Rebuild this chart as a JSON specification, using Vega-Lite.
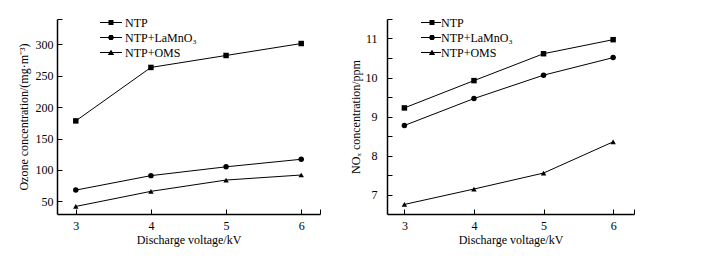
{
  "$schema": "https://vega.github.io/schema/vega-lite/v6.json",
  "padding": {"left": 17, "top": 13, "right": 5, "bottom": 5},
  "background": "white",
  "spacing": 28,
  "config": {
    "font": "Liberation Serif",
    "view": {"stroke": null},
    "axis": {
      "domainColor": "black", "domainWidth": 1.5, "tickColor": "black", "tickWidth": 1,
      "tickSize": -5, "labelColor": "black", "titleColor": "black",
      "labelFontSize": 12, "titleFontSize": 12, "titleFontWeight": "normal", "labelOverlap": false,
      "grid": false, "labelFont": "Liberation Serif", "titleFont": "Liberation Serif"
    },
    "legend": {
      "labelFont": "Liberation Serif", "labelFontSize": 12, "labelColor": "black"
    }
  },
  "datasets": {
    "ozone": [
      {"voltage": 3, "series": "NTP", "value": 178},
      {"voltage": 4, "series": "NTP", "value": 263},
      {"voltage": 5, "series": "NTP", "value": 282},
      {"voltage": 6, "series": "NTP", "value": 301},
      {"voltage": 3, "series": "NTP+LaMnO₃", "value": 68},
      {"voltage": 4, "series": "NTP+LaMnO₃", "value": 91},
      {"voltage": 5, "series": "NTP+LaMnO₃", "value": 105},
      {"voltage": 6, "series": "NTP+LaMnO₃", "value": 117},
      {"voltage": 3, "series": "NTP+OMS", "value": 42},
      {"voltage": 4, "series": "NTP+OMS", "value": 66},
      {"voltage": 5, "series": "NTP+OMS", "value": 84},
      {"voltage": 6, "series": "NTP+OMS", "value": 92}
    ],
    "nox": [
      {"voltage": 3, "series": "NTP", "value": 9.22},
      {"voltage": 4, "series": "NTP", "value": 9.92},
      {"voltage": 5, "series": "NTP", "value": 10.61},
      {"voltage": 6, "series": "NTP", "value": 10.97},
      {"voltage": 3, "series": "NTP+LaMnO₃", "value": 8.77},
      {"voltage": 4, "series": "NTP+LaMnO₃", "value": 9.46},
      {"voltage": 5, "series": "NTP+LaMnO₃", "value": 10.06},
      {"voltage": 6, "series": "NTP+LaMnO₃", "value": 10.51},
      {"voltage": 3, "series": "NTP+OMS", "value": 6.745},
      {"voltage": 4, "series": "NTP+OMS", "value": 7.14},
      {"voltage": 5, "series": "NTP+OMS", "value": 7.55},
      {"voltage": 6, "series": "NTP+OMS", "value": 8.35}
    ]
  },
  "hconcat": [
    {
      "width": 263, "height": 195,
      "data": {"name": "ozone"},
      "encoding": {
        "x": {"field": "voltage", "type": "quantitative",
          "scale": {"domain": [2.75, 6.25], "nice": false, "zero": false},
          "axis": {"title": "Discharge voltage/kV", "values": [3, 4, 5, 6, 6.25], "labelOverlap": false, "labelBound": false,
            "labelExpr": "datum.value > 6.1 ? '' : format(datum.value, 'd')", "labelPadding": 11, "titlePadding": 3}},
        "y": {"field": "value", "type": "quantitative",
          "scale": {"domain": [30, 340], "nice": false, "zero": false},
          "axis": {"title": "Ozone concentration/(mg·m⁻³)", "values": [50, 100, 150, 200, 250, 300, 340], "labelOverlap": false,
            "labelExpr": "datum.value == 340 ? '' : datum.label", "labelPadding": 9, "titlePadding": 5}}
      },
      "layer": [
        {"mark": {"type": "line", "color": "black", "strokeWidth": 1},
         "encoding": {"detail": {"field": "series"}}},
        {"mark": {"type": "point", "filled": true, "color": "black", "opacity": 1, "size": 30},
         "encoding": {
           "shape": {"field": "series", "type": "nominal",
             "scale": {"domain": ["NTP", "NTP+LaMnO₃", "NTP+OMS"], "range": ["square", "circle", "triangle-up"]},
             "legend": null}}},
        {"mark": {"type": "point", "filled": false, "color": "black", "strokeWidth": 1, "opacity": 0},
         "encoding": {
           "shape": {"field": "series", "type": "nominal",
             "scale": {"domain": ["NTP", "NTP+LaMnO₃", "NTP+OMS"], "range": [
               "M-1,0H3.4M0.7,-0.4H1.7M0.7,-0.2H1.7M0.7,0.2H1.7M0.7,0.4H1.7",
               "M-1,0H3.4M0.82,-0.4H1.58M0.69,-0.2H1.71M0.69,0.2H1.71M0.82,0.4H1.58",
               "M-1,0H3.4M1.09,-0.4H1.31M0.97,-0.2H1.43M0.74,0.2H1.66M0.63,0.4H1.77"]},
             "legend": {"orient": "none", "legendX": 42, "legendY": -2.5, "title": null,
               "symbolSize": 100, "labelOffset": 14, "rowPadding": 3, "symbolOpacity": 1,
               "symbolStrokeColor": "black", "symbolStrokeWidth": 1}}}}
      ],
      "resolve": {"scale": {"shape": "independent"}}
    },
    {
      "width": 247, "height": 195,
      "data": {"name": "nox"},
      "encoding": {
        "x": {"field": "voltage", "type": "quantitative",
          "scale": {"domain": [2.75, 6.3], "nice": false, "zero": false},
          "axis": {"title": "Discharge voltage/kV", "values": [3, 4, 5, 6, 6.3], "labelOverlap": false, "labelBound": false,
            "labelExpr": "datum.value > 6.1 ? '' : format(datum.value, 'd')", "labelPadding": 11, "titlePadding": 3}},
        "y": {"field": "value", "type": "quantitative",
          "scale": {"domain": [6.5, 11.5], "nice": false, "zero": false},
          "axis": {"title": "NOₓ concentration/ppm", "values": [7, 7.5, 8, 8.5, 9, 9.5, 10, 10.5, 11, 11.5], "labelOverlap": false,
            "labelExpr": "datum.value % 1 != 0 ? '' : format(datum.value, 'd')", "labelPadding": 15, "titlePadding": 3}}
      },
      "layer": [
        {"mark": {"type": "line", "color": "black", "strokeWidth": 1},
         "encoding": {"detail": {"field": "series"}}},
        {"mark": {"type": "point", "filled": true, "color": "black", "opacity": 1, "size": 30},
         "encoding": {
           "shape": {"field": "series", "type": "nominal",
             "scale": {"domain": ["NTP", "NTP+LaMnO₃", "NTP+OMS"], "range": ["square", "circle", "triangle-up"]},
             "legend": null}}},
        {"mark": {"type": "point", "filled": false, "color": "black", "strokeWidth": 1, "opacity": 0},
         "encoding": {
           "shape": {"field": "series", "type": "nominal",
             "scale": {"domain": ["NTP", "NTP+LaMnO₃", "NTP+OMS"], "range": [
               "M-1,0H3M0.7,-0.4H1.7M0.7,-0.2H1.7M0.7,0.2H1.7M0.7,0.4H1.7",
               "M-1,0H3M0.82,-0.4H1.58M0.69,-0.2H1.71M0.69,0.2H1.71M0.82,0.4H1.58",
               "M-1,0H3M1.09,-0.4H1.31M0.97,-0.2H1.43M0.74,0.2H1.66M0.63,0.4H1.77"]},
             "legend": {"orient": "none", "legendX": 33, "legendY": -2.5, "title": null,
               "symbolSize": 100, "labelOffset": 9, "rowPadding": 3, "symbolOpacity": 1,
               "symbolStrokeColor": "black", "symbolStrokeWidth": 1}}}}
      ],
      "resolve": {"scale": {"shape": "independent"}}
    }
  ],
  "resolve": {"scale": {"shape": "independent"}, "legend": {"shape": "independent"}}
}
